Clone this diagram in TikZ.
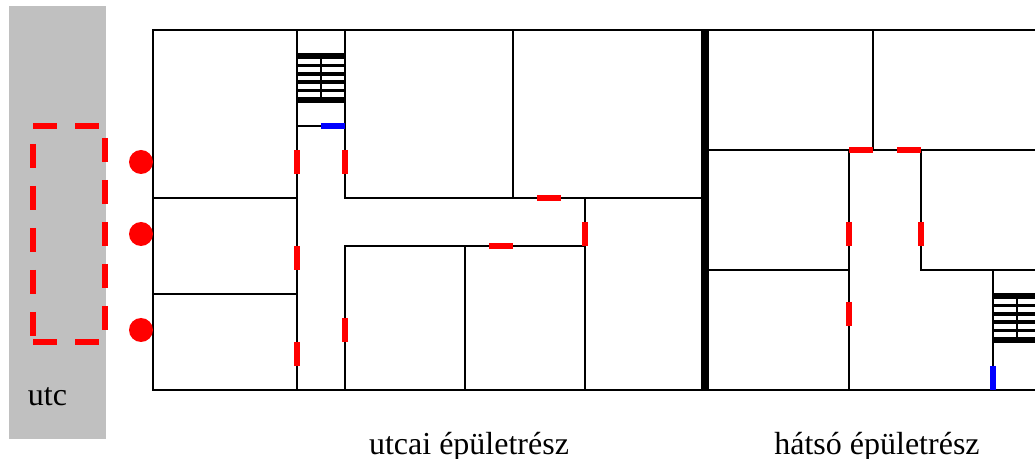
\documentclass[tikz,border=0pt]{standalone}
\usepackage{fontspec}
\setmainfont{Liberation Serif}
\definecolor{streetgray}{RGB}{192,192,192}
\definecolor{doorred}{RGB}{255,0,0}
\definecolor{exitblue}{RGB}{0,0,255}
\tikzset{
  wall/.style={draw=black,line width=1.5pt,line cap=rect},
  thickwall/.style={draw=black,line width=6pt},
  stairedge/.style={draw=black,line width=4.5pt},
  stairtread/.style={draw=black,line width=2.7pt},
  stairmid/.style={draw=black,line width=1.5pt},
  door/.style={draw=doorred,line width=4.5pt},
  exitdoor/.style={draw=exitblue,line width=4.5pt},
  callpoint/.style={fill=doorred},
  caption/.style={font=\fontsize{24}{28}\selectfont,text=black,inner sep=0pt,anchor=base}
}
\begin{document}
\begin{tikzpicture}[x=0.75pt,y=-0.75pt]
\useasboundingbox (0,0) rectangle (1035,459);
\fill[white] (0,0) rectangle (1035,459);
% street
\fill[streetgray] (9,6) rectangle (106,439);
% walls
\clip (0,0) rectangle (1035,459);
\draw[wall] (1040,30) -- (153,30) -- (153,390) -- (1040,390);
\draw[wall] (297,30) -- (297,390);
\draw[wall] (345,30) -- (345,198) -- (705,198);
\draw[wall] (345,390) -- (345,246) -- (585,246);
\draw[wall] (153,198) -- (297,198);
\draw[wall] (153,294) -- (297,294);
\draw[wall] (513,30) -- (513,198);
\draw[wall] (585,198) -- (585,390);
\draw[wall] (465,246) -- (465,390);
\draw[wall] (297,126) -- (345,126);
\draw[wall] (873,30) -- (873,150);
\draw[wall] (705,150) -- (1040,150);
\draw[wall] (849,150) -- (849,390);
\draw[wall] (921,150) -- (921,270) -- (1040,270);
\draw[wall] (705,270) -- (849,270);
\draw[wall] (993,270) -- (993,390);
\draw[thickwall] (705,30) -- (705,390);
% front stairs
\draw[stairedge] (296,56) -- (346,56);
\draw[stairedge] (296,100.5) -- (346,100.5);
\foreach \yy in {65.5,73.8,82.1,90.5} \draw[stairtread] (296,\yy) -- (346,\yy);
\draw[stairmid] (321,56) -- (321,100);
% rear stairs
\draw[stairedge] (992,296) -- (1040,296);
\draw[stairedge] (992,340.5) -- (1040,340.5);
\foreach \yy in {305.5,313.8,322.1,330.5} \draw[stairtread] (992,\yy) -- (1040,\yy);
\draw[stairmid] (1017,296) -- (1017,340);
% exits
\draw[exitdoor] (321,126) -- (345,126);
\draw[exitdoor] (993,366) -- (993,390);
% doors
\foreach \xa/\ya/\xb/\yb in {297/150/297/174,345/150/345/174,297/246/297/270,297/342/297/366,345/318/345/342,537/198/561/198,585/222/585/246,489/246/513/246,849/150/873/150,897/150/921/150,849/222/849/246,921/222/921/246,849/302/849/326}
  \draw[door] (\xa,\ya) -- (\xb,\yb);
% dashed zone
\foreach \xa in {33,75} {
  \draw[door] (\xa,126) -- +(24,0);
  \draw[door] (\xa,342) -- +(24,0);
}
\foreach \ya in {144,186,228,270,312} \draw[door] (33,\ya) -- +(0,24);
\foreach \ya in {138,180,222,264,306} \draw[door] (105,\ya) -- +(0,24);
% call points
\foreach \yy in {162,234,330} \fill[callpoint] (141,\yy) circle[radius=9pt];
% labels
\node[caption] (street) at (47.5,406) {utc};
\node[caption] (front) at (469,454) {utcai épületrész};
\node[caption] (rear) at (877,454) {hátsó épületrész};
\end{tikzpicture}
\end{document}
